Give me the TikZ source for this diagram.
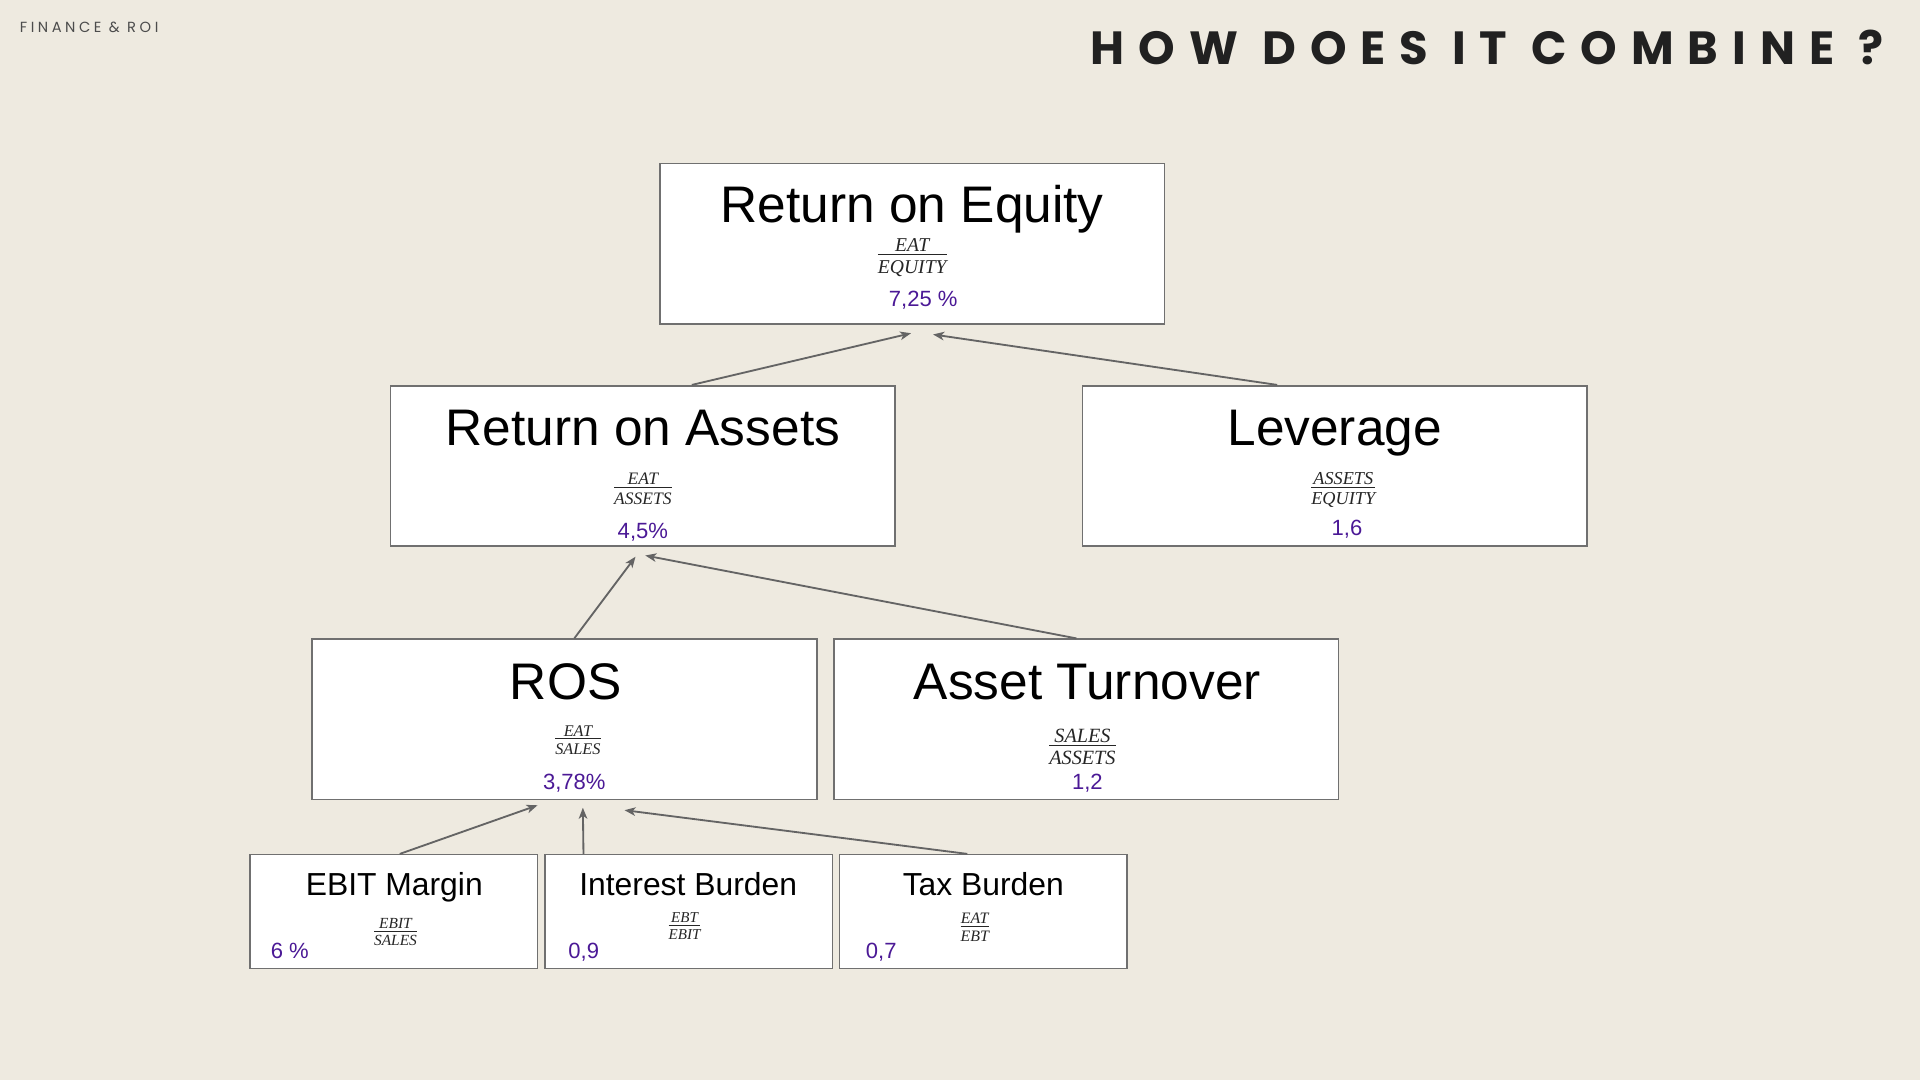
\documentclass[tikz,border=0pt]{standalone}
\usepackage{fontspec}
\setmainfont{Liberation Sans}
\newfontfamily\fracfont{Liberation Serif}
\newfontfamily\headfont[LetterSpace=30]{Poppins}
\newfontfamily\tagfont[LetterSpace=24]{Poppins}
\usetikzlibrary{arrows.meta}
\usetikzlibrary{positioning}
\definecolor{paper}{RGB}{238,234,224}
\definecolor{boxline}{RGB}{112,112,112}
\definecolor{arrowgray}{RGB}{100,100,100}
\definecolor{valpurple}{RGB}{75,25,150}
\tikzstyle{bigbox} =
[
	draw=boxline,fill=white,rectangle,line width=1.3pt,inner sep=0pt,
	minimum width=412pt, minimum height=131pt
]
\tikzstyle{smallbox} =
[
	draw=boxline,fill=white,rectangle,line width=1.3pt,inner sep=0pt,
	minimum width=235pt, minimum height=93pt
]
\tikzstyle{bigtitle} = [anchor=base,inner sep=0pt,font=\fontsize{42}{46}\selectfont]
\tikzstyle{smalltitle} = [anchor=base,inner sep=0pt,font=\fontsize{26}{30}\selectfont]
\tikzstyle{value} = [anchor=base,inner sep=0pt,text=valpurple,font=\fontsize{18}{20}\selectfont]
\tikzstyle{ratiotext} = [inner sep=0pt,text=black!85]
\tikzstyle{conn} = [draw=arrowgray,line width=1.5pt,->]
\newcommand{\ratio}[3]{{\fontsize{#1}{#1}\selectfont\fracfont\itshape
	\setlength{\arrayrulewidth}{0.9pt}%
	\begin{tabular}{@{}c@{}}#2\\[-0.18em]\hline\rule{0pt}{0.92em}#3\end{tabular}}}

\begin{document}
\begin{tikzpicture}[x=1pt,y=-1pt,>={Stealth[length=9pt,width=7pt,inset=2.5pt]}]

\fill[paper] (0,0) rectangle (1568,882);
\useasboundingbox (0,0) rectangle (1568,882);

\node[anchor=west,inner sep=0pt,text=black!70] (tag) at (16,22)
	{\tagfont\fontsize{12}{14}\selectfont FINANCE \& ROI};
\node[anchor=east,inner sep=0pt,text=black!87] (head) at (1538,39)
	{\headfont\bfseries\fontsize{38}{40}\selectfont HOW DOES IT COMBINE ?};

% boxes
\node[bigbox] (roe) at (745,199) {};
\node[bigbox] (roa) at (525,380.5) {};
\node[bigbox] (lev) at (1090,380.5) {};
\node[bigbox] (ros) at (461,587.5) {};
\node[bigbox] (at) at (887,587.5) {};
\node[smallbox] (ebit) at (321.5,744.5) {};
\node[smallbox] (ib) at (562.5,744.5) {};
\node[smallbox] (tb) at (803,744.5) {};

% texts
\node[bigtitle] (roe-t) at (745,182) {Return on Equity};
\node[ratiotext] (roe-f) at (745,211) {\ratio{16}{EAT}{EQUITY}};
\node[value] (roe-v) at (754,250) {7,25 \%};

\node[bigtitle] (roa-t) at (525,364) {Return on Assets};
\node[ratiotext] (roa-f) at (525,401) {\ratio{14.3}{EAT}{ASSETS}};
\node[value] (roa-v) at (525,440) {4,5\%};

\node[bigtitle] (lev-t) at (1090,364) {Leverage};
\node[ratiotext] (lev-f) at (1097,401) {\ratio{14.9}{ASSETS}{EQUITY}};
\node[value] (lev-v) at (1100,437) {1,6};

\node[bigtitle] (ros-t) at (462,571) {ROS};
\node[ratiotext] (ros-f) at (472,606) {\ratio{13.3}{EAT}{SALES}};
\node[value] (ros-v) at (469,645) {3,78\%};

\node[bigtitle] (at-t) at (888,571) {Asset Turnover};
\node[ratiotext] (at-f) at (884,612) {\ratio{16.5}{SALES}{ASSETS}};
\node[value] (at-v) at (888,645) {1,2};

\node[smalltitle] (ebit-t) at (322,731) {EBIT Margin};
\node[ratiotext] (ebit-f) at (323,763) {\ratio{12.6}{EBIT}{SALES}};
\node[value,anchor=base west] (ebit-v) at (221,783) {6 \%};

\node[smalltitle] (ib-t) at (562,731) {Interest Burden};
\node[ratiotext] (ib-f) at (559,758) {\ratio{12.3}{EBT}{EBIT}};
\node[value,anchor=base west] (ib-v) at (464,783) {0,9};

\node[smalltitle] (tb-t) at (803,731) {Tax Burden};
\node[ratiotext] (tb-f) at (796,759) {\ratio{13}{EAT}{EBT}};
\node[value,anchor=base west] (tb-v) at (707,783) {0,7};

% connectors
\path
	([xshift=40]roa.north) edge[conn] ([xshift=-1,yshift=-7]roe.south)
	([xshift=-47]lev.north) edge[conn] ([xshift=17,yshift=-8]roe.south)
	([xshift=8]ros.north) edge[conn] ([xshift=-6,yshift=-8]roa.south)
	([xshift=-8]at.north) edge[conn] ([xshift=2,yshift=-7]roa.south)
	([xshift=5]ebit.north) edge[conn] ([xshift=-22,yshift=-4]ros.south)
	([xshift=-86]ib.north) edge[conn] ([xshift=15,yshift=-6]ros.south)
	([xshift=-13]tb.north) edge[conn] ([xshift=49,yshift=-8]ros.south);

\end{tikzpicture}
\end{document}
